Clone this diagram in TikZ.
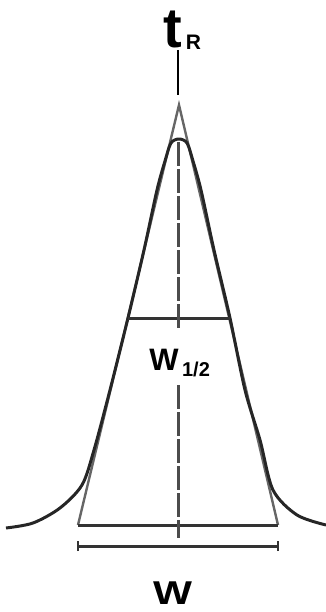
\documentclass[tikz,border=0pt]{standalone}
\usepackage{fontspec}
\setmainfont{Liberation Sans}
\begin{document}
\begin{tikzpicture}[x=1pt,y=-1pt,
  peak/.style={draw=black!85,line width=3pt,line join=round},
  tangent/.style={draw=black!60,line width=2.4pt},
  bar/.style={draw=black!80,line width=3pt},
  center/.style={draw=black!70,line width=3pt,dash pattern=on 24pt off 3pt},
  lbl/.style={inner sep=0pt,font=\bfseries}]
\useasboundingbox (0,0) rectangle (326,612);
% key points
\coordinate (apex) at (179,105);
\coordinate (bl) at (78,525);
\coordinate (br) at (278,525);
\coordinate (hl) at (128,318);
\coordinate (hr) at (230,318);
\coordinate (wl) at (78,546);
\coordinate (wr) at (278,546);
\coordinate (ttop) at (178,50);
\coordinate (tbot) at (178,95);
\coordinate (d1) at (178,142);
\coordinate (d2) at (178,330);
\coordinate (d3) at (178,385);
\coordinate (d4) at (178,538);
% tangent lines
\draw[tangent] (bl) -- (apex) -- (br);
% gaussian peak
\draw[peak] plot[smooth,tension=0.5] coordinates {
 (6,528) (33,523) (60,508) (82,485) (94,450) (110,390) (128,318) (144,250)
 (157,190) (165,161) (171,143) (179,139) (187,143) (193,161) (201,190)
 (214,250) (230,318) (245,390) (260,440) (273,490) (297,515) (326,525)};
% half height and base
\draw[bar] (hl) -- (hr);
\draw[bar] (bl) -- (br);
% width bar
\draw[bar] (wl) -- (wr);
\draw[draw=black!80,line width=2pt] ([yshift=-5]wl) -- ([yshift=5]wl);
\draw[draw=black!80,line width=2pt] ([yshift=-5]wr) -- ([yshift=5]wr);
% center dashed
\draw[center] (d1) -- (d2);
\draw[center] (d3) -- (d4);
% retention time marker
\draw[line width=2pt] (ttop) -- (tbot);
% labels
\node[lbl,font=\bfseries\fontsize{56}{56}\selectfont,anchor=base] (t) at (172.5,48) {t};
\node[lbl,font=\bfseries\fontsize{21}{21}\selectfont,anchor=base] (R) at (193.5,50) {R};
\node[lbl,font=\bfseries\fontsize{31}{31}\selectfont,anchor=base] (W1) at (164,370) {W};
\node[lbl,font=\bfseries\fontsize{20}{20}\selectfont,anchor=base] (half) at (196,376) {1/2};
\node[lbl,font=\bfseries\fontsize{33}{33}\selectfont,anchor=base] (W) at (172.5,604) {\scalebox{1.25}[1]{W}};
\end{tikzpicture}
\end{document}
